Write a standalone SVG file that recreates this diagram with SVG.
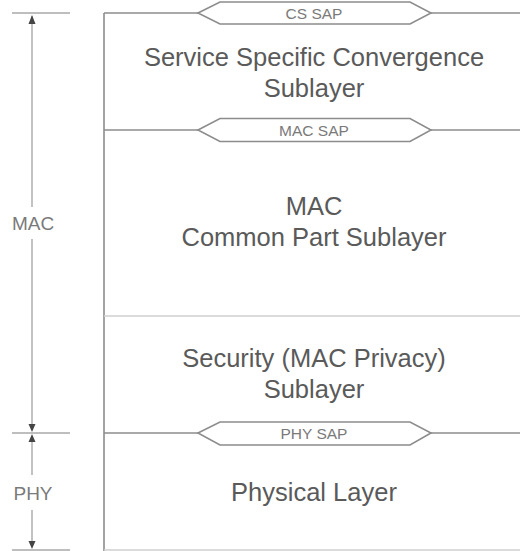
<svg xmlns="http://www.w3.org/2000/svg" width="520" height="551" viewBox="0 0 520 551">
  <defs>
    <style>
      .rule { stroke: #8c8c8c; stroke-width: 1.6; fill: none; }
      .soft { stroke: #cfcfcf; stroke-width: 1.6; fill: none; }
      .dim { stroke: #a8a8a8; stroke-width: 1.4; fill: none; }
      .sap { stroke: #8c8c8c; stroke-width: 1.6; fill: #ffffff; }
      .title { font-family: "Liberation Sans", Arial, sans-serif; font-size: 25.5px; fill: #5a5a5a; text-anchor: middle; }
      .saplabel { font-family: "Liberation Sans", Arial, sans-serif; font-size: 15.5px; fill: #7a7a7a; text-anchor: middle; }
      .side { font-family: "Liberation Sans", Arial, sans-serif; font-size: 19px; fill: #7a7a7a; text-anchor: middle; }
      .head { fill: #444444; }
    </style>
  </defs>

  <rect width="520" height="551" fill="#ffffff"/>

  <!-- layer boundaries -->
  <g id="connectors">
    <line class="rule" x1="104" y1="13" x2="104" y2="551"/>
    <line class="rule" x1="104" y1="13" x2="198" y2="13"/>
    <line class="rule" x1="431" y1="13" x2="520" y2="13"/>
    <line class="rule" x1="104" y1="130" x2="198" y2="130"/>
    <line class="rule" x1="431" y1="130" x2="520" y2="130"/>
    <line class="soft" x1="104" y1="316" x2="520" y2="316"/>
    <line class="rule" x1="104" y1="433" x2="198" y2="433"/>
    <line class="rule" x1="431" y1="433" x2="520" y2="433"/>
    <line class="soft" x1="104" y1="550" x2="520" y2="550"/>
  </g>

  <!-- service access points -->
  <g id="cs-sap">
    <polygon class="sap" points="198,13 220,2 410,2 431,13 410,24 220,24"/>
    <text class="saplabel" x="314" y="18.5">CS SAP</text>
  </g>
  <g id="mac-sap">
    <polygon class="sap" points="198,130 220,118.5 410,118.5 431,130 410,141.5 220,141.5"/>
    <text class="saplabel" x="314" y="135.5">MAC SAP</text>
  </g>
  <g id="phy-sap">
    <polygon class="sap" points="198,433 220,422 410,422 431,433 410,445 220,445"/>
    <text class="saplabel" x="314" y="439">PHY SAP</text>
  </g>

  <!-- sublayers -->
  <g id="cs-sublayer">
    <text class="title" x="314" y="66">Service Specific Convergence</text>
    <text class="title" x="314" y="97">Sublayer</text>
  </g>
  <g id="mac-cps">
    <text class="title" x="314" y="215">MAC</text>
    <text class="title" x="314" y="246">Common Part Sublayer</text>
  </g>
  <g id="security-sublayer">
    <text class="title" x="314" y="367">Security (MAC Privacy)</text>
    <text class="title" x="314" y="398">Sublayer</text>
  </g>
  <g id="physical-layer">
    <text class="title" x="314" y="501">Physical Layer</text>
  </g>

  <!-- extent markers on the left -->
  <g id="mac-extent">
    <line class="dim" x1="12" y1="13" x2="70" y2="13"/>
    <line class="dim" x1="12" y1="433" x2="70" y2="433"/>
    <line class="dim" x1="32" y1="16" x2="32" y2="207"/>
    <line class="dim" x1="32" y1="239" x2="32" y2="426"/>
    <polygon class="head" points="32,15 28.5,24 35.5,24"/>
    <polygon class="head" points="32,432 28.5,424 35.5,424"/>
    <text class="side" x="33" y="230">MAC</text>
  </g>
  <g id="phy-extent">
    <line class="dim" x1="12" y1="550" x2="70" y2="550"/>
    <line class="dim" x1="32" y1="440" x2="32" y2="475"/>
    <line class="dim" x1="32" y1="510" x2="32" y2="543"/>
    <polygon class="head" points="32,434 28.5,442 35.5,442"/>
    <polygon class="head" points="32,549 28.5,541 35.5,541"/>
    <text class="side" x="33" y="500">PHY</text>
  </g>
</svg>
